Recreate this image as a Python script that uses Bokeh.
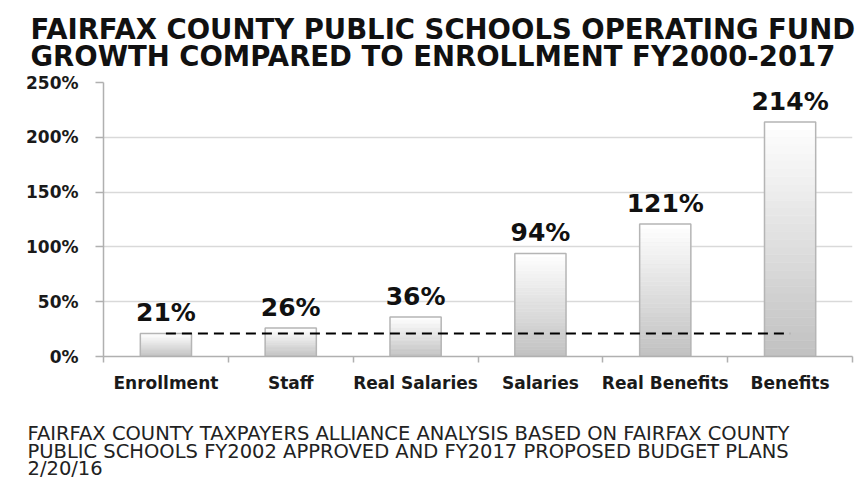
from bokeh.plotting import figure
from bokeh.models import Title, FixedTicker, LinearAxis
from bokeh.core.properties import value
from bokeh.embed import file_html
from bokeh.resources import INLINE

categories = ["Enrollment", "Staff", "Real Salaries", "Salaries", "Real Benefits", "Benefits"]
growth = [21, 26, 36, 94, 121, 214]
y_ticks = [0, 50, 100, 150, 200, 250]
y_tick_labels = ["0%", "50%", "100%", "150%", "200%", "250%"]
value_labels = ["21%", "26%", "36%", "94%", "121%", "214%"]
title_lines = ["FAIRFAX COUNTY PUBLIC SCHOOLS OPERATING FUND",
               "GROWTH COMPARED TO ENROLLMENT FY2000-2017"]
footer_lines = ["FAIRFAX COUNTY TAXPAYERS ALLIANCE ANALYSIS BASED ON FAIRFAX COUNTY",
                "PUBLIC SCHOOLS FY2002  APPROVED AND FY2017 PROPOSED BUDGET PLANS",
                "2/20/16"]

W, H = 865, 480
n = len(categories)
centers = [i + 0.5 for i in range(n)]

p = figure(width=W, height=H, x_range=(0, n), y_range=(0, 250),
           output_backend="svg", toolbar_location=None,
           min_border_left=103, min_border_right=13, min_border_top=82, min_border_bottom=124)
p.outline_line_color = None
p.background_fill_color = "white"
p.border_fill_color = "white"

# grid
p.xgrid.grid_line_color = None
p.ygrid.grid_line_color = "#d9d9d9"
p.ygrid.grid_line_width = 1.5

# y axis
p.yaxis.ticker = FixedTicker(ticks=y_ticks, minor_ticks=[])
p.yaxis.major_label_overrides = {t: l for t, l in zip(y_ticks, y_tick_labels)}
p.yaxis.axis_line_color = "#b0b0b0"
p.yaxis.axis_line_width = 1.5
p.yaxis.major_tick_line_color = "#b0b0b0"
p.yaxis.major_tick_line_width = 1.5
p.yaxis.major_tick_out = 8
p.yaxis.major_tick_in = 0
p.yaxis.minor_tick_line_color = None
p.yaxis.major_label_standoff = 17
p.yaxis.major_label_text_font = "DejaVu Sans"
p.yaxis.major_label_text_font_style = "bold"
p.yaxis.major_label_text_font_size = "17px"
p.yaxis.major_label_text_color = "#1a1a1a"

# x axis
p.xaxis.ticker = FixedTicker(ticks=centers, minor_ticks=list(range(n + 1)))
p.xaxis.major_label_overrides = {c: l for c, l in zip(centers, categories)}
p.xaxis.axis_line_color = "#b0b0b0"
p.xaxis.axis_line_width = 1.5
p.xaxis.major_tick_line_color = None
p.xaxis.minor_tick_line_color = "#b0b0b0"
p.xaxis.minor_tick_line_width = 1.5
p.xaxis.minor_tick_out = 6
p.xaxis.minor_tick_in = 0
p.xaxis.major_label_standoff = 10
p.xaxis.major_label_text_font = "DejaVu Sans"
p.xaxis.major_label_text_font_style = "bold"
p.xaxis.major_label_text_font_size = "17px"
p.xaxis.major_label_text_color = "#1a1a1a"

# gradient bars (white at top to gray at bottom)
N = 30
bw = 0.41
top_rgb = (255, 255, 255)
bot_rgb = (194, 194, 194)
for c, v in zip(centers, growth):
    lefts, rights, bottoms, tops, colors = [], [], [], [], []
    for k in range(N):
        f = k / (N - 1)
        r = int(bot_rgb[0] + (top_rgb[0] - bot_rgb[0]) * f)
        g = int(bot_rgb[1] + (top_rgb[1] - bot_rgb[1]) * f)
        b = int(bot_rgb[2] + (top_rgb[2] - bot_rgb[2]) * f)
        lefts.append(c - bw / 2)
        rights.append(c + bw / 2)
        bottoms.append(v * k / N)
        tops.append(v * (k + 1) / N)
        colors.append("#%02x%02x%02x" % (r, g, b))
    p.quad(left=lefts, right=rights, bottom=bottoms, top=tops,
           fill_color=colors, line_color=colors, line_width=0.6)

p.vbar(x=centers, top=growth, width=bw, fill_color=None,
       line_color="#b5b5b5", line_width=1.5)

# enrollment reference line
p.line(x=[centers[0], centers[-1]], y=[growth[0], growth[0]],
       line_color="black", line_width=2, line_dash="10 6")

# value labels
p.text(x=centers, y=growth, text=value_labels, text_align="center",
       text_baseline="bottom", y_offset=-6,
       text_font=value("DejaVu Sans"), text_font_style="bold",
       text_font_size="25px", text_color="#111111")

p.add_layout(Title(text="\n".join(title_lines), align="left", offset=-73,
                   standoff=20, text_line_height=0.87,
                   text_font="DejaVu Sans", text_font_style="bold",
                   text_font_size="27.5px", text_color="#111111"), "above")

# invisible spacer axis between the category labels and the footer note
spacer = LinearAxis(ticker=FixedTicker(ticks=[centers[0]], minor_ticks=[]),
                    major_label_overrides={centers[0]: ""},
                    axis_line_color=None, major_tick_line_color=None,
                    minor_tick_line_color=None, major_tick_in=0,
                    major_tick_out=24, minor_tick_out=0,
                    major_label_standoff=0, major_label_text_font_size="1px",
                    major_label_text_alpha=0)
p.add_layout(spacer, "below")

p.add_layout(Title(text="\n".join(footer_lines), align="left", offset=-76,
                   standoff=0, text_line_height=0.78,
                   text_font="DejaVu Sans", text_font_style="normal",
                   text_font_size="19.5px", text_color="#222222"), "below")

open("out.html", "w").write(file_html(p, INLINE))
